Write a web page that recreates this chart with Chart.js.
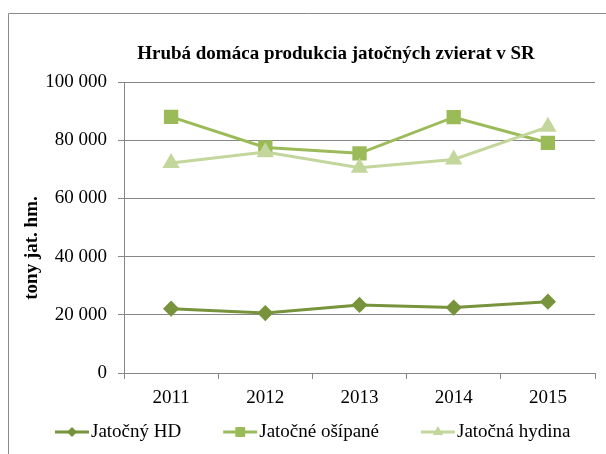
<!DOCTYPE html>
<html>
<head>
<meta charset="utf-8">
<script src="https://cdn.jsdelivr.net/npm/chart.js@4/dist/chart.umd.min.js"></script>
<style>
  html, body { margin: 0; padding: 0; background: #ffffff; }
  #wrap { width: 606px; height: 454px; position: relative; }
  canvas { display: block; }
</style>
</head>
<body>
<div id="wrap"><canvas id="c" width="606" height="454"></canvas></div>
<script>
// ---- Data ----
const years = ['2011', '2012', '2013', '2014', '2015'];
const jatocnyHD = [22100, 20600, 23400, 22500, 24500];
const jatocneOsipane = [88000, 77500, 75500, 87900, 79100];
const jatocnaHydina = [72200, 75900, 70500, 73400, 84600];
const seriesNames = ['Jatočný HD', 'Jatočné ošípané', 'Jatočná hydina'];
const chartTitle = 'Hrubá domáca produkcia jatočných zvierat v SR';
const yAxisTitle = 'tony jat. hm.';
const yTicks = [0, 20000, 40000, 60000, 80000, 100000];

const colors = ['#77933C', '#9BBB59', '#C3D69B'];
const FONT = '"Liberation Serif", "Times New Roman", serif';
const GRID = '#868686';

function fmt(v) {
  return String(v).replace(/\B(?=(\d{3})+(?!\d))/g, ' ');
}

function drawMarker(ctx, style, x, y, r, color) {
  ctx.save();
  ctx.fillStyle = color;
  ctx.beginPath();
  if (style === 'rectRot') {
    ctx.moveTo(x, y - r); ctx.lineTo(x + r, y); ctx.lineTo(x, y + r); ctx.lineTo(x - r, y);
  } else if (style === 'rect') {
    const s = r * Math.SQRT1_2;
    ctx.rect(x - s, y - s, 2 * s, 2 * s);
  } else {
    const a = 2 * Math.PI / 3;
    ctx.moveTo(x, y - r);
    ctx.lineTo(x + Math.sin(a) * r, y - Math.cos(a) * r);
    ctx.lineTo(x - Math.sin(a) * r, y - Math.cos(a) * r);
  }
  ctx.closePath();
  ctx.fill();
  ctx.restore();
}

const decor = {
  id: 'decor',
  beforeDraw(chart) {
    const ctx = chart.ctx;
    ctx.save();
    ctx.fillStyle = '#ffffff';
    ctx.fillRect(0, 0, chart.width, chart.height);
    ctx.strokeStyle = '#8c8c8c';
    ctx.lineWidth = 1;
    ctx.beginPath();
    ctx.moveTo(8.5, chart.height);
    ctx.lineTo(8.5, 13.5);
    ctx.lineTo(chart.width, 13.5);
    ctx.stroke();
    ctx.restore();
  },
  afterDraw(chart) {
    const ctx = chart.ctx;
    ctx.save();
    // Title
    ctx.fillStyle = '#000';
    ctx.font = 'bold 19px ' + FONT;
    ctx.textAlign = 'center';
    ctx.textBaseline = 'middle';
    ctx.fillText(chartTitle, 336, 54);
    // Y axis title
    ctx.save();
    ctx.translate(32, 248);
    ctx.rotate(-Math.PI / 2);
    ctx.fillText(yAxisTitle, 0, 0);
    ctx.restore();
    // Legend
    ctx.font = '19px ' + FONT;
    ctx.textAlign = 'left';
    const styles = ['rectRot', 'rect', 'triangle'];
    const radii = [6, 8, 7];
    let x = 55;
    const y = 432;
    chart.data.datasets.forEach((ds, i) => {
      ctx.strokeStyle = ds.borderColor;
      ctx.lineWidth = 3;
      ctx.beginPath();
      ctx.moveTo(x, y);
      ctx.lineTo(x + 34, y);
      ctx.stroke();
      drawMarker(ctx, styles[i], x + 17, y, radii[i] - 1, ds.borderColor);
      ctx.fillStyle = '#000';
      ctx.fillText(ds.label, x + 36, y);
      x += 36 + ctx.measureText(ds.label).width + 42;
    });
    ctx.restore();
  }
};

new Chart(document.getElementById('c'), {
  type: 'line',
  data: {
    labels: years,
    datasets: [
      { label: seriesNames[0], data: jatocnyHD, borderColor: colors[0], backgroundColor: colors[0],
        pointStyle: 'rectRot', pointRadius: 6, pointHoverRadius: 6, borderWidth: 3, order: 3 },
      { label: seriesNames[1], data: jatocneOsipane, borderColor: colors[1], backgroundColor: colors[1],
        pointStyle: 'rect', pointRadius: 8, pointHoverRadius: 8, borderWidth: 3, order: 2 },
      { label: seriesNames[2], data: jatocnaHydina, borderColor: colors[2], backgroundColor: colors[2],
        pointStyle: 'triangle', pointRadius: 7, pointHoverRadius: 7, borderWidth: 3, order: 1 }
    ]
  },
  options: {
    responsive: false,
    animation: false,
    events: [],
    layout: { padding: { left: 0, right: 9, top: 82, bottom: 41 } },
    elements: { line: { tension: 0 }, point: { borderWidth: 0 } },
    plugins: {
      legend: { display: false },
      title: { display: false },
      tooltip: { enabled: false }
    },
    scales: {
      x: {
        type: 'category',
        offset: true,
        grid: { drawOnChartArea: false, tickLength: 6, color: GRID, offset: true },
        border: { color: GRID, width: 1 },
        ticks: { color: '#000', font: { family: FONT, size: 19 }, padding: 8, maxRotation: 0 },
        afterFit(scale) { scale.height = 40; }
      },
      y: {
        min: 0,
        max: 100000,
        afterBuildTicks(scale) { scale.ticks = yTicks.map(v => ({ value: v })); },
        grid: { color: GRID, tickLength: 6, lineWidth: 1 },
        border: { color: GRID, width: 1 },
        ticks: { color: '#000', font: { family: FONT, size: 19 }, padding: 11, callback: v => fmt(v) },
        afterFit(scale) { scale.width = 124; }
      }
    }
  },
  plugins: [decor]
});
</script>
</body>
</html>
